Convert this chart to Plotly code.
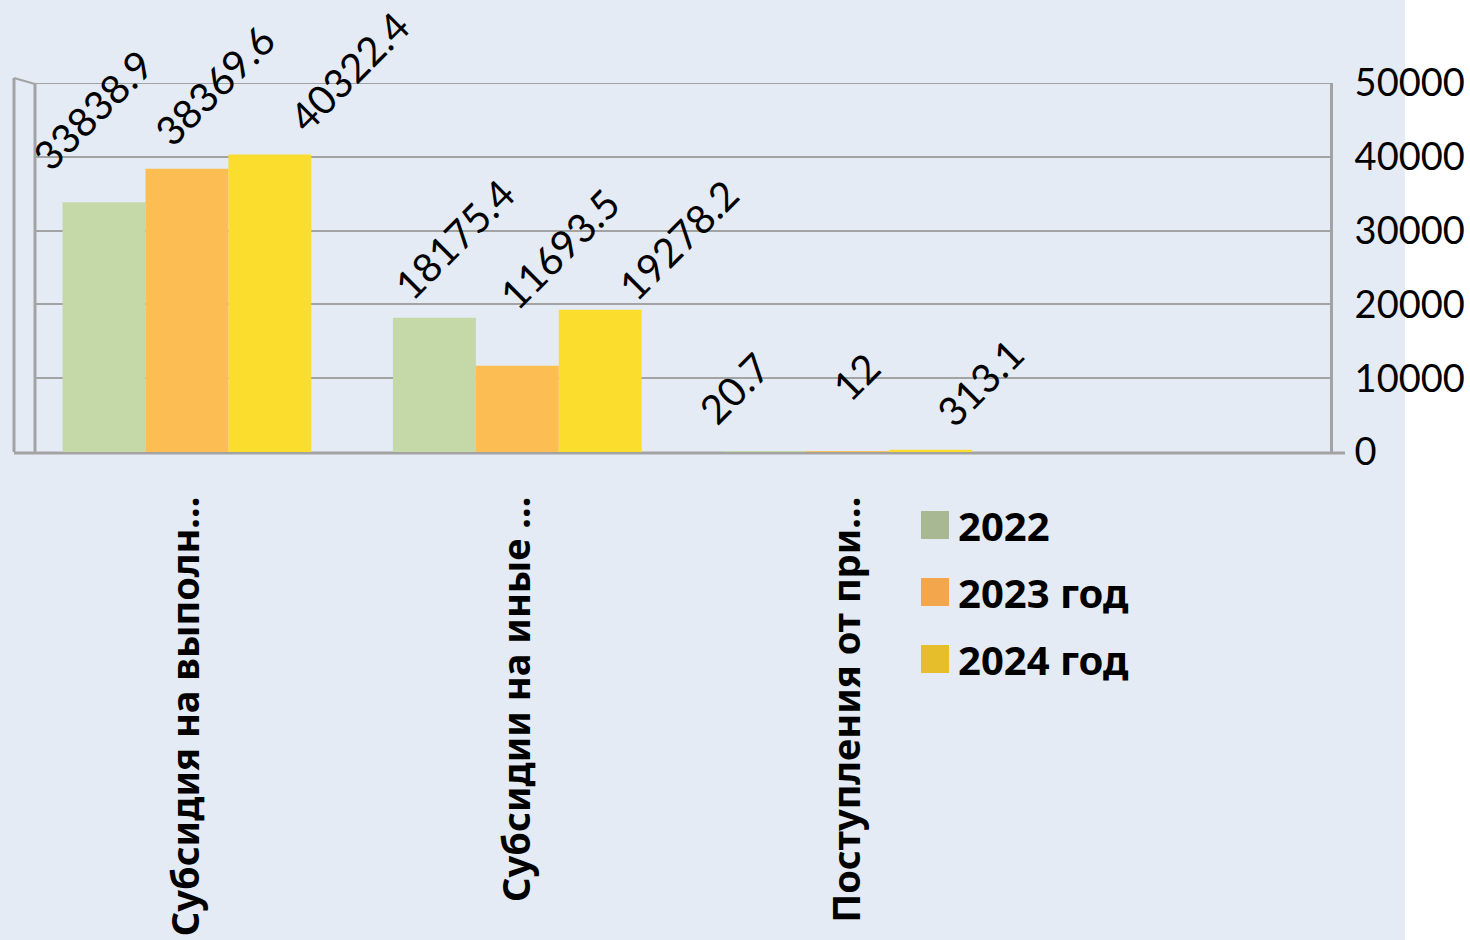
import plotly.graph_objects as go

categories = ["Субсидия на выполн...", "Субсидии на иные ...", "Поступления от при..."]
series_names = ["2022", "2023 год", "2024 год"]
v2022 = [33838.9, 18175.4, 20.7]
v2023 = [38369.6, 11693.5, 12]
v2024 = [40322.4, 19278.2, 313.1]
y_ticks = [0, 10000, 20000, 30000, 40000, 50000]
y_tick_text = ["0", "10000", "20000", "30000", "40000", "50000"]

bar_colors = ["#C5D8A8", "#FCBD52", "#FBDD2E"]
legend_colors = ["#A8B892", "#F3A64B", "#E6BE2B"]

# label nudges (px) per series/category, to mimic the original placement
label_dx = [[-11, 20, -30], [28, 42, 8], [80, 78, 49]]
label_dy = [[92, 79, 64], [84, 117, 75], [83, 70, 67]]

W, H = 1470, 940
L, R, T, B = 35, 1330, 83, 452
BG = "#E4EBF4"
GRID = "#A3A3A3"


def px2x(px):
    return (px - L) / (R - L)


def px2y(py):
    return (B - py) / (B - T)


fig = go.Figure()
xs = list(range(len(categories)))
all_vals = [v2022, v2023, v2024]
for name, vals, col in zip(series_names, all_vals, bar_colors):
    fig.add_trace(go.Bar(
        x=xs, y=vals, name=name,
        marker=dict(color=col, line=dict(width=0)),
        showlegend=False,
    ))

bargap = 0.247
bw = (1 - bargap) / 3

annotations = []
for k, vals in enumerate(all_vals):
    for i, v in enumerate(vals):
        annotations.append(dict(
            x=i + (k - 1) * bw, y=v, xref="x", yref="y",
            text=f"{v:g}", showarrow=False, textangle=-45,
            xanchor="center", yanchor="middle",
            xshift=label_dx[k][i], yshift=label_dy[k][i],
            font=dict(family="Lato, Carlito, sans-serif", size=40, color="#000000"),
        ))

shapes = [
    # white strip on the right
    dict(type="rect", xref="paper", yref="paper", layer="below",
         x0=px2x(1405), x1=px2x(1480), y0=px2y(-10), y1=px2y(950),
         fillcolor="#FFFFFF", line=dict(width=0)),
    # left wall
    dict(type="line", xref="paper", yref="paper", layer="below",
         x0=px2x(14), x1=px2x(14), y0=px2y(452), y1=px2y(78),
         line=dict(color=GRID, width=3)),
    dict(type="line", xref="paper", yref="paper", layer="below",
         x0=px2x(14), x1=px2x(35), y0=px2y(78), y1=px2y(84),
         line=dict(color=GRID, width=2)),
    dict(type="line", xref="paper", yref="paper", layer="below",
         x0=px2x(35), x1=px2x(35), y0=px2y(452), y1=px2y(84),
         line=dict(color=GRID, width=3)),
    # floor
    dict(type="line", xref="paper", yref="paper", layer="below",
         x0=px2x(14), x1=px2x(1345), y0=px2y(453), y1=px2y(453),
         line=dict(color=GRID, width=3)),
    # top gridline
    dict(type="line", xref="paper", yref="y", layer="below",
         x0=0, x1=1, y0=y_ticks[-1], y1=y_ticks[-1],
         line=dict(color=GRID, width=2)),
]

# manual legend with large swatches
leg_top = [511, 578, 645]
for name, col, ty in zip(series_names, legend_colors, leg_top):
    shapes.append(dict(type="rect", xref="paper", yref="paper",
                       x0=px2x(921), x1=px2x(949), y0=px2y(ty + 28), y1=px2y(ty),
                       fillcolor=col, line=dict(width=0)))
    annotations.append(dict(
        x=px2x(956), y=px2y(ty + 14), xref="paper", yref="paper",
        text=f"<b>{name}</b>", showarrow=False, xanchor="left", yanchor="middle",
        font=dict(family="Noto Sans, Open Sans, sans-serif", size=40, color="#000000"),
    ))

fig.update_layout(
    width=W, height=H,
    margin=dict(l=L, r=W - R, t=T, b=H - B, pad=0, autoexpand=False),
    paper_bgcolor=BG, plot_bgcolor="rgba(0,0,0,0)",
    barmode="group", bargap=bargap, bargroupgap=0,
    showlegend=False,
    xaxis=dict(
        range=[-0.46, 3.46], tickvals=xs, ticktext=[f"<b>{c}</b>" for c in categories],
        tickangle=-90, showgrid=False, zeroline=False, showline=False, ticks="",
        ticklabelstandoff=36, automargin=False,
        tickfont=dict(family="Noto Sans, Open Sans, sans-serif", size=38, color="#000000"),
    ),
    yaxis=dict(
        range=[0, 50000], tickvals=y_ticks, ticktext=y_tick_text, side="right",
        showgrid=True, gridcolor=GRID, gridwidth=2,
        zeroline=False, showline=True, linecolor=GRID, linewidth=3,
        ticks="", ticklabelstandoff=14, automargin=False,
        tickfont=dict(family="Lato, Carlito, sans-serif", size=38, color="#000000"),
    ),
    annotations=annotations,
    shapes=shapes,
)

fig.write_html(
    "out.html",
    config={"displayModeBar": False},
    post_script=(
        "document.body.style.margin='0';"
        "document.body.style.overflow='hidden';"
        "document.documentElement.style.overflow='hidden';"
    ),
)
